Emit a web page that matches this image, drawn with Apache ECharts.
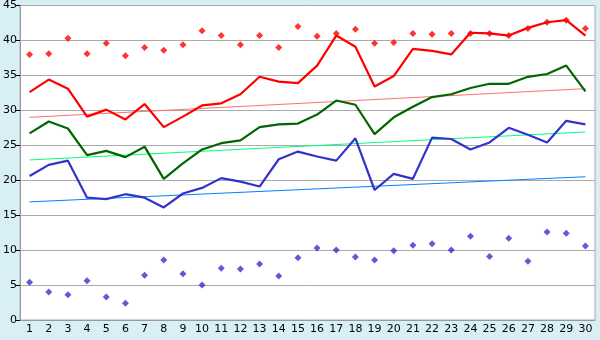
<!DOCTYPE html>
<html><head><meta charset="utf-8">
<script src="https://cdn.jsdelivr.net/npm/echarts@6/dist/echarts.min.js"></script>
<style>html,body{margin:0;padding:0;background:#d9eff6}#c{width:600px;height:340px}</style>
</head><body><div id="c"></div>
<script>
var categories = ['1','2','3','4','5','6','7','8','9','10','11','12','13','14','15','16','17','18','19','20','21','22','23','24','25','26','27','28','29','30'];
var redPoints = [38.0,38.1,40.3,38.1,39.6,37.8,39.0,38.6,39.4,41.4,40.7,39.4,40.7,39.0,42.0,40.6,41.0,41.6,39.6,39.7,41.0,40.9,41.0,41.0,41.0,40.7,41.7,42.6,42.9,41.7];
var redLine = [32.6,34.4,33.1,29.1,30.1,28.7,30.9,27.6,29.1,30.7,31.0,32.3,34.8,34.1,33.9,36.4,40.7,39.1,33.4,34.9,38.8,38.5,38.0,41.1,41.0,40.7,41.8,42.6,42.9,40.7];
var greenLine = [26.7,28.4,27.4,23.6,24.2,23.3,24.8,20.2,22.4,24.4,25.3,25.7,27.6,28.0,28.1,29.4,31.4,30.8,26.6,29.0,30.5,31.9,32.3,33.2,33.8,33.8,34.8,35.2,36.4,32.7];
var blueLine = [20.6,22.2,22.8,17.5,17.3,18.0,17.5,16.1,18.1,18.9,20.3,19.8,19.1,23.0,24.1,23.4,22.8,26.0,18.6,20.9,20.2,26.1,25.9,24.4,25.4,27.5,26.5,25.4,28.5,28.0];
var bluePoints = [5.4,4.0,3.6,5.6,3.3,2.4,6.4,8.6,6.6,5.0,7.4,7.3,8.0,6.3,8.9,10.3,10.0,9.0,8.6,9.9,10.7,10.9,10.0,12.0,9.1,11.7,8.4,12.6,12.4,10.6];
var redTrend = [29.0, 33.1];
var greenTrend = [22.9, 26.9];
var blueTrend = [16.9, 20.5];
var yTicks = [0,5,10,15,20,25,30,35,40,45];

function trend(t){ return [[0, t[0]], [categories.length-1, t[1]]]; }
function line(name, data, color, width){
  return {name:name, type:'line', data:data, symbol:'none', lineStyle:{color:color, width:width}, itemStyle:{color:color}, animation:false, z:3};
}
function pts(name, data, color){
  return {name:name, type:'scatter', data:data, symbol:'diamond', symbolSize:7, itemStyle:{color:color}, animation:false, z:4};
}
var chart = echarts.init(document.getElementById('c'), null, {renderer:'canvas'});
chart.setOption({
  backgroundColor:'#d9eff6',
  animation:false,
  grid:{left:20, right:5, top:5, bottom:20, show:true, backgroundColor:'#ffffff', borderColor:'#aaaaaa', borderWidth:1},
  xAxis:{type:'category', data:categories, boundaryGap:true,
    axisLine:{lineStyle:{color:'#999999'}},
    axisTick:{alignWithLabel:true, length:5, lineStyle:{color:'#000'}},
    axisLabel:{color:'#000', fontSize:11, fontFamily:'DejaVu Sans', margin:4, interval:0},
    splitLine:{show:false}},
  yAxis:{type:'value', min:yTicks[0], max:yTicks[yTicks.length-1], interval:5,
    axisLine:{show:true, lineStyle:{color:'#999999'}},
    axisTick:{show:true, length:4, lineStyle:{color:'#000'}},
    axisLabel:{color:'#000', fontSize:11, fontFamily:'DejaVu Sans', margin:3},
    splitLine:{lineStyle:{color:'#aaaaaa', width:1}}},
  series:[
    line('redTrend', trend(redTrend), '#ff7070', 1),
    line('greenTrend', trend(greenTrend), '#00ff80', 1),
    line('blueTrend', trend(blueTrend), '#0080ff', 1),
    line('blue', blueLine, '#3333cc', 2.2),
    line('green', greenLine, '#006600', 2.2),
    line('red', redLine, '#ff0000', 2.2),
    pts('redPts', redPoints, '#ff0000'),
    pts('bluePts', bluePoints, '#3333cc')
  ]
});
</script></body></html>
